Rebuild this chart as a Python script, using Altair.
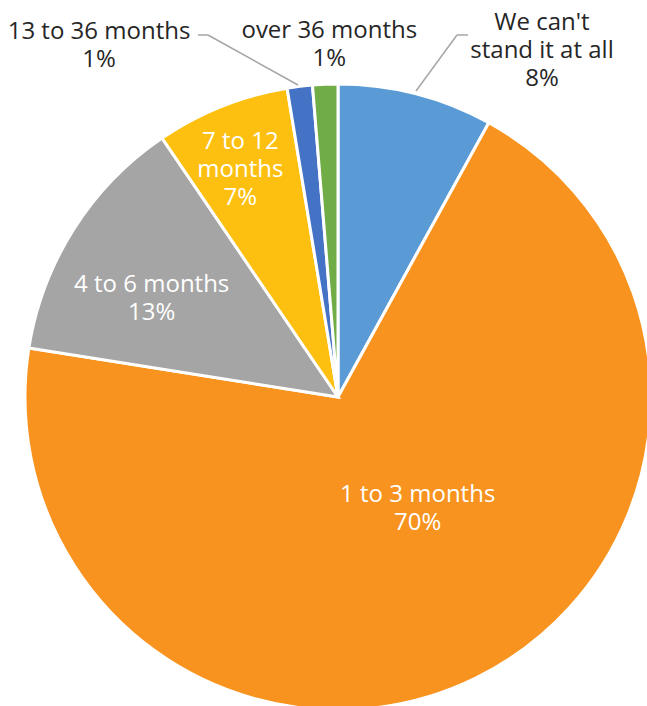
import math
import altair as alt
import pandas as pd

# ---- data ----
categories = ["We can't stand it at all", "1 to 3 months", "4 to 6 months",
              "7 to 12 months", "13 to 36 months", "over 36 months"]
values = [8.0, 69.5, 13.0, 6.9, 1.3, 1.3]
pct_labels = ["8%", "70%", "13%", "7%", "1%", "1%"]
label_names = ["We can't\nstand it at all", "1 to 3 months", "4 to 6 months",
               "7 to 12\nmonths", "13 to 36 months", "over 36 months"]
colors = ["#5B9BD5", "#F7931E", "#A5A5A5", "#FDC010", "#4472C4", "#70AD47"]

df = pd.DataFrame({
    "category": categories,
    "value": values,
    "order": list(range(len(categories))),
    "label": [f"{n}\n{p}" for n, p in zip(label_names, pct_labels)],
})

# ---- layout ----
CX, CY, R = 338, 397, 313
FONT = "Open Sans"
# per-label placement: (radius, dx, dy, color)
placement = [
    (390, 107, 4, "#262626"),
    (138, 19, -26, "white"),
    (210, -9, 0.5, "white"),
    (247, -6, -26, "white"),
    (360, -195, -8, "#262626"),
    (360, 6, -6, "#262626"),
]

pie = alt.Chart(df).mark_arc(outerRadius=R, stroke="white", strokeWidth=3).encode(
    theta=alt.Theta("value:Q", stack=True),
    order=alt.Order("order:Q"),
    color=alt.Color("category:N", scale=alt.Scale(domain=categories, range=colors), legend=None),
    x=alt.value(CX),
    y=alt.value(CY),
)

lab_base = alt.Chart(df).transform_window(
    cum="sum(value)", sort=[alt.SortField("order")], frame=[None, 0]
).transform_joinaggregate(
    total="sum(value)"
).transform_calculate(
    mid="2*PI*(datum.cum - datum.value/2)/datum.total"
)

layers = [pie]
for i, (r, dx, dy, col) in enumerate(placement):
    layers.append(
        lab_base.transform_filter(alt.datum.order == i).mark_text(
            radius=r, dx=dx, dy=dy, font=FONT, fontSize=24, lineHeight=28,
            lineBreak="\n", align="center", baseline="middle", color=col,
        ).encode(
            theta=alt.Theta("mid:Q", scale=None),
            text="label:N",
            x=alt.value(CX),
            y=alt.value(CY),
        )
    )

one = pd.DataFrame({"k": [0]})
segments = [
    (198, 35, 208, 35), (208, 35, 298, 85),
    (468, 35, 457, 35), (457, 35, 416, 91),
]
for x1, y1, x2, y2 in segments:
    layers.append(
        alt.Chart(one).mark_rule(color="#A6A6A6", strokeWidth=1.5).encode(
            x=alt.value(x1), y=alt.value(y1), x2=alt.value(x2), y2=alt.value(y2)
        )
    )

chart = alt.layer(*layers).resolve_scale(theta="independent").properties(
    width=647, height=706, padding=0,
    autosize=alt.AutoSizeParams(type="none"),
    background="white",
).configure_view(stroke=None)

chart.save("out.html", embed_options={"renderer": "svg", "actions": False})
